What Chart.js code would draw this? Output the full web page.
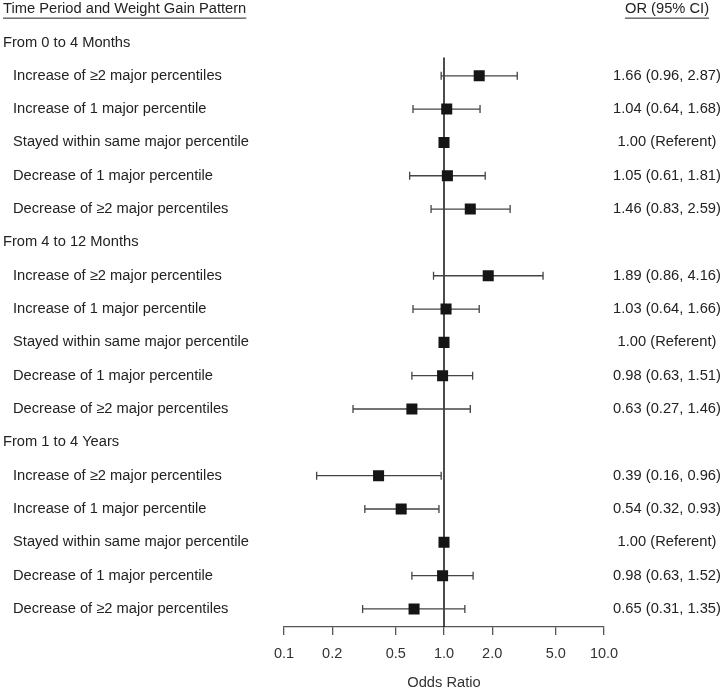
<!DOCTYPE html>
<html>
<head>
<meta charset="utf-8">
<script src="https://cdn.jsdelivr.net/npm/chart.js@4.4.1/dist/chart.umd.min.js"></script>
<style>
  html, body { margin: 0; padding: 0; background: #fff; }
  #wrap { width: 723px; height: 692px; }
</style>
</head>
<body>
<div id="wrap"><canvas id="forest" width="723" height="692"></canvas></div>
<script>
var groups = ['From 0 to 4 Months', 'From 4 to 12 Months', 'From 1 to 4 Years'];
var patterns = [
    'Increase of \u22652 major percentiles',
    'Increase of 1 major percentile',
    'Stayed within same major percentile',
    'Decrease of 1 major percentile',
    'Decrease of \u22652 major percentiles'
];
var oddsRatio = [1.66, 1.04, 1.00, 1.05, 1.46, 1.89, 1.03, 1.00, 0.98, 0.63, 0.39, 0.54, 1.00, 0.98, 0.65];
var ciLower = [0.96, 0.64, null, 0.61, 0.83, 0.86, 0.64, null, 0.63, 0.27, 0.16, 0.32, null, 0.63, 0.31];
var ciUpper = [2.87, 1.68, null, 1.81, 2.59, 4.16, 1.66, null, 1.51, 1.46, 0.96, 0.93, null, 1.52, 1.35];
var tickValues = [0.1, 0.2, 0.5, 1, 2, 5, 10];

var FONT = '"Liberation Sans", Arial, sans-serif';

// row 0 = column headers, then a header row per group followed by its patterns
function rowOf(k) {
    var g = Math.floor(k / patterns.length);
    var j = k % patterns.length;
    return 1 + g * (patterns.length + 1) + 1 + j;
}

var points = oddsRatio.map(function (v, k) {
    return { x: v, y: rowOf(k) };
});

var forestPlugin = {
    id: 'forest',
    beforeDatasetsDraw: function (chart) {
        var ctx = chart.ctx;
        var xs = chart.scales.x, ys = chart.scales.y;
        ctx.save();
        // reference line at OR = 1
        ctx.strokeStyle = '#111';
        ctx.lineWidth = 1.5;
        ctx.beginPath();
        ctx.moveTo(xs.getPixelForValue(1), ys.getPixelForValue(1.45));
        ctx.lineTo(xs.getPixelForValue(1), chart.chartArea.bottom);
        ctx.stroke();
        // confidence intervals
        ctx.strokeStyle = '#444';
        ctx.lineWidth = 1.3;
        for (var k = 0; k < oddsRatio.length; k++) {
            if (ciLower[k] == null) continue;
            var y = ys.getPixelForValue(rowOf(k));
            var x1 = xs.getPixelForValue(ciLower[k]);
            var x2 = xs.getPixelForValue(ciUpper[k]);
            ctx.beginPath();
            ctx.moveTo(x1, y); ctx.lineTo(x2, y);
            ctx.moveTo(x1, y - 4); ctx.lineTo(x1, y + 4);
            ctx.moveTo(x2, y - 4); ctx.lineTo(x2, y + 4);
            ctx.stroke();
        }
        ctx.restore();
    },
    afterDraw: function (chart) {
        var ctx = chart.ctx;
        var ys = chart.scales.y;
        ctx.save();
        ctx.font = '14.7px ' + FONT;
        ctx.fillStyle = '#222';
        ctx.textBaseline = 'middle';

        function underlined(text, x, y, align) {
            ctx.textAlign = align;
            ctx.fillText(text, x, y);
            var w = ctx.measureText(text).width;
            var left = align === 'center' ? x - w / 2 : x;
            ctx.strokeStyle = '#222';
            ctx.lineWidth = 1;
            ctx.beginPath();
            ctx.moveTo(left, y + 9);
            ctx.lineTo(left + w, y + 9);
            ctx.stroke();
        }

        var y0 = ys.getPixelForValue(0);
        underlined('Time Period and Weight Gain Pattern', 3, y0, 'left');
        underlined('OR (95% CI)', 667, y0, 'center');

        for (var g = 0; g < groups.length; g++) {
            ctx.textAlign = 'left';
            ctx.fillText(groups[g], 3, ys.getPixelForValue(1 + g * (patterns.length + 1)));
        }
        for (var k = 0; k < oddsRatio.length; k++) {
            var y = ys.getPixelForValue(rowOf(k));
            ctx.textAlign = 'left';
            ctx.fillText(patterns[k % patterns.length], 13, y);
            var label = ciLower[k] == null
                ? oddsRatio[k].toFixed(2) + ' (Referent)'
                : oddsRatio[k].toFixed(2) + ' (' + ciLower[k].toFixed(2) + ', ' + ciUpper[k].toFixed(2) + ')';
            ctx.textAlign = 'center';
            ctx.fillText(label, 667, y);
        }
        ctx.restore();
    }
};

var forestChart = new Chart(document.getElementById('forest'), {
    type: 'scatter',
    data: {
        datasets: [{
            data: points,
            pointStyle: 'rect',
            pointRadius: 7.8,
            pointHoverRadius: 7.8,
            backgroundColor: '#151515',
            borderColor: '#151515',
            borderWidth: 0
        }]
    },
    options: {
        responsive: false,
        animation: false,
        layout: { padding: { left: 284, right: 119, top: 0, bottom: 0 } },
        plugins: {
            legend: { display: false },
            tooltip: { enabled: false }
        },
        scales: {
            x: {
                type: 'logarithmic',
                min: 0.1,
                max: 10,
                afterBuildTicks: function (axis) {
                    axis.ticks = tickValues.map(function (v) { return { value: v }; });
                },
                ticks: {
                    color: '#333',
                    padding: 10,
                    maxRotation: 0,
                    autoSkip: false,
                    font: { family: FONT, size: 14.5 },
                    callback: function (value) { return Number(value).toFixed(1); }
                },
                grid: {
                    drawOnChartArea: false,
                    drawTicks: true,
                    tickLength: 8,
                    tickColor: '#555',
                    lineWidth: 1.3
                },
                border: { display: true, color: '#555', width: 1.3 },
                title: {
                    display: true,
                    text: 'Odds Ratio',
                    color: '#333',
                    font: { family: FONT, size: 14.7 },
                    padding: { top: 2, bottom: 0 }
                }
            },
            y: {
                display: false,
                reverse: true,
                min: -0.04,
                max: 18.54
            }
        }
    },
    plugins: [forestPlugin]
});
</script>
</body>
</html>
